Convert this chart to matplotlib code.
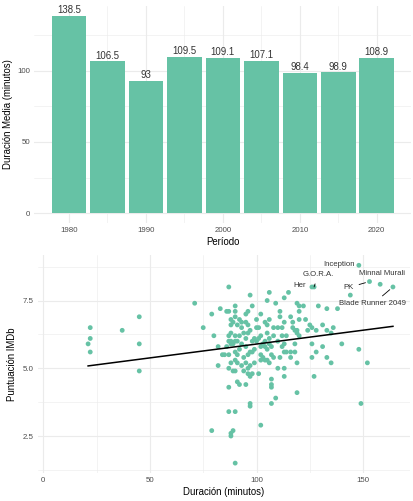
import numpy as np
import matplotlib
matplotlib.use("Agg")
import matplotlib.pyplot as plt

plt.rcParams['font.family'] = ['Liberation Sans', 'DejaVu Sans']

# ---- data: duracion media por periodo ----
periodos = [1980, 1985, 1990, 1995, 2000, 2005, 2010, 2015, 2020]
duracion_media = [138.5, 106.5, 93.0, 109.5, 109.1, 107.1, 98.4, 98.9, 108.9]
etiquetas_barras = ['138.5', '106.5', '93', '109.5', '109.1', '107.1', '98.4', '98.9', '108.9']

# ---- data: duracion vs puntuacion IMDb ----
duracion = [
    21, 22, 22, 22, 37, 45, 45, 45,
    71, 75, 79, 80, 83, 82, 82, 79, 84, 86, 87,
    148, 153, 158, 164, 126, 127, 144,
    106, 115, 97, 105, 113, 90, 98, 109, 119, 120, 122, 129, 133, 138,
    87, 90, 95, 96, 102, 111, 116, 120,
    88, 89, 90, 92, 93, 95, 100, 104, 106, 111, 113, 117, 120, 123, 125, 131,
    88, 91, 93, 96, 100, 101, 105, 108, 110, 112, 117, 118, 119, 126, 128, 133, 136, 135,
    87, 88, 90, 92, 94, 96, 97, 99, 101, 102, 105, 106, 108, 112, 114, 119, 120, 124,
    87, 88, 89, 90, 91, 93, 95, 98, 100, 103, 104, 106, 110, 113, 118, 126, 140,
    86, 88, 92, 95, 97, 99, 102, 104, 105, 107, 112, 114, 116, 118, 131, 148,
    85, 87, 90, 91, 94, 96, 98, 102, 103, 104, 107, 108, 111, 113, 116, 126, 128, 133, 135, 152,
    88, 90, 91, 93, 95, 96, 97, 99, 102, 105, 106, 110, 113, 119,
    87, 89, 90, 94, 96, 97, 98, 101, 107, 113, 127,
    87, 91, 92, 95, 107, 107,
    109, 107, 97, 97, 119, 149, 87, 90, 102, 89, 88, 88, 90,
]
puntuacion = [
    5.9, 6.5, 6.1, 5.6, 6.4, 6.9, 5.9, 4.9,
    7.4, 6.5, 7.0, 6.2, 7.2, 5.8, 5.1, 2.7, 5.5, 7.1, 8.0,
    8.8, 8.2, 8.1, 8.0, 8.0, 8.0, 7.7,
    7.8, 7.8, 7.7, 7.5, 7.6, 7.3, 7.3, 7.4, 7.4, 7.3, 7.3, 7.3, 7.2, 7.2,
    7.1, 7.1, 7.0, 7.1, 7.0, 7.1, 6.9, 7.1,
    6.8, 6.7, 6.9, 6.8, 6.7, 6.7, 6.8, 6.7, 6.8, 6.9, 6.7, 6.7, 6.8, 6.8, 6.6, 6.6,
    6.6, 6.6, 6.5, 6.6, 6.5, 6.5, 6.6, 6.5, 6.5, 6.5, 6.5, 6.4, 6.4, 6.5, 6.4, 6.4, 6.5, 6.3,
    6.2, 6.3, 6.2, 6.2, 6.3, 6.3, 6.4, 6.1, 6.1, 6.2, 6.3, 6.1, 6.2, 6.2, 6.2, 6.3, 6.2, 6.4,
    6.0, 6.0, 5.9, 6.0, 6.0, 5.9, 6.1, 6.0, 6.0, 5.9, 6.0, 5.9, 6.0, 5.9, 5.9, 5.9, 5.9,
    5.8, 5.9, 5.7, 5.8, 5.6, 5.7, 5.8, 5.8, 5.7, 5.8, 5.8, 5.6, 5.6, 5.6, 5.8, 5.7,
    5.5, 5.5, 5.6, 5.5, 5.4, 5.5, 5.6, 5.5, 5.4, 5.3, 5.5, 5.4, 5.4, 5.6, 5.4, 5.4, 5.6, 5.4, 5.2, 5.2,
    5.2, 5.3, 5.2, 5.1, 5.2, 5.0, 5.1, 5.2, 5.3, 5.3, 5.2, 5.0, 5.0, 5.2,
    5.0, 4.9, 4.9, 4.9, 4.8, 4.7, 4.8, 4.8, 4.6, 4.7, 4.7,
    4.3, 4.5, 4.4, 4.4, 4.4, 4.3,
    3.9, 3.7, 3.7, 3.6, 4.1, 3.7, 3.4, 3.4, 2.9, 2.7, 2.6, 2.5, 1.5,
]

titulos = ['Inception', 'G.O.R.A.', 'Her', 'PK', 'Minnal Murali', 'Blade Runner 2049']
titulos_dur = [148, 127, 126, 153, 158, 164]
titulos_punt = [8.8, 8.0, 8.0, 8.2, 8.1, 8.0]

verde = '#66C2A5'
grid_col = '#EBEBEB'
texto_gris = '#4D4D4D'

fig = plt.figure(figsize=(4.14, 5.01), dpi=100)
W, H = 414, 501


def estilo(ax):
    for s in ax.spines.values():
        s.set_visible(False)
    ax.tick_params(length=0, labelsize=5.7, labelcolor=texto_gris, pad=3)
    ax.grid(True, which='major', color=grid_col, linewidth=0.8)
    ax.grid(True, which='minor', color=grid_col, linewidth=0.4)
    ax.set_axisbelow(True)


# ---- panel superior: barras ----
ax1 = fig.add_axes([34.4 / W, 1 - 223 / H, (411.4 - 34.4) / W, (223 - 6) / H])
estilo(ax1)
ax1.bar(periodos, duracion_media, width=4.5, color=verde, edgecolor='none', zorder=2)
for x, v, t in zip(periodos, duracion_media, etiquetas_barras):
    ax1.annotate(t, (x, v), xytext=(0, 0.5), textcoords='offset points',
                 ha='center', va='bottom', fontsize=6.9, color='#333333')
ax1.set_xlim(1975.5, 2024.5)
ax1.set_ylim(-6.925, 145.425)
ax1.set_xticks([1980, 1990, 2000, 2010, 2020])
ax1.set_xticks([1985, 1995, 2005, 2015], minor=True)
ax1.set_yticks([0, 50, 100])
ax1.set_yticks([25, 75, 125], minor=True)
ax1.tick_params(which='minor', length=0)
ax1.set_xlabel('Período', fontsize=6.9, labelpad=2)
ax1.set_ylabel('Duración Media (minutos)', fontsize=6.9, labelpad=3)

# ---- panel inferior: dispersion ----
ax2 = fig.add_axes([38 / W, 1 - 473 / H, (410 - 38) / W, (473 - 255.4) / H])
estilo(ax2)
ax2.scatter(duracion, puntuacion, s=12, color=verde, edgecolors='none', zorder=2)

coef = np.polyfit(duracion, puntuacion, 1)
xs = np.array([min(duracion), max(duracion)])
ax2.plot(xs, np.polyval(coef, xs), color='black', linewidth=1.1, zorder=3)

# posiciones de etiquetas (offset en pixeles)
offsets = {
    'Inception': (-4, 1, 'right', None),
    'G.O.R.A.': (4, 12, 'center', True),
    'Her': (-12, 1.5, 'center', None),
    'PK': (-21, -6, 'center', True),
    'Minnal Murali': (2, 10.5, 'center', None),
    'Blade Runner 2049': (-20, -17, 'center', True),
}
for t, x, y in zip(titulos, titulos_dur, titulos_punt):
    dx, dy, ha, seg = offsets[t]
    arrow = dict(arrowstyle='-', color='black', lw=0.6, shrinkA=2, shrinkB=3) if seg else None
    ax2.annotate(t, (x, y), xytext=(dx * 0.72, dy * 0.72), textcoords='offset points',
                 ha=ha, va='center', fontsize=5.6, color='#333333', arrowprops=arrow)

ax2.set_xlim(-2.5, 172)
ax2.set_ylim(1.135, 9.165)
ax2.set_xticks([0, 50, 100, 150])
ax2.set_xticks([25, 75, 125], minor=True)
ax2.set_yticks([2.5, 5.0, 7.5])
ax2.set_yticks([1.25, 3.75, 6.25, 8.75], minor=True)
ax2.tick_params(which='minor', length=0)
ax2.set_xlabel('Duración (minutos)', fontsize=6.9, labelpad=2)
ax2.set_ylabel('Puntuación IMDb', fontsize=6.9, labelpad=4)

fig.savefig('out.png', dpi=100, facecolor='white')
